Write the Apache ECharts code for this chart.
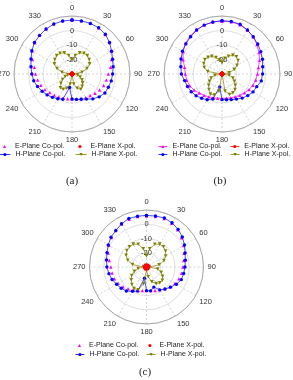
<!DOCTYPE html>
<html><head><meta charset="utf-8">
<script src="https://cdn.jsdelivr.net/npm/echarts@6.0.0/dist/echarts.min.js"></script>
<style>html,body{margin:0;padding:0;background:#fff}#c{width:293px;height:380px}</style>
</head><body><div id="c"></div>
<script>
// angles (deg)
const angles = [0,10,20,30,40,50,60,70,80,90,100,110,120,130,140,150,160,170,180,190,200,210,220,230,240,250,260,270,280,290,300,310,320,330,340,350];
// radial scale (dB)
const radialMin = -30, radialMax = 10, radialStep = 10;
const angleStep = 30;
const seriesNames = ['E-Plane Co-pol.', 'E-Plane X-pol.', 'H-Plane Co-pol.', 'H-Plane X-pol.'];
const captions = ['(a)', '(b)', '(c)'];

// (a)
const a_eCo = [7.3,7.3,7.2,6.8,5.5,3.8,1.5,-1,-3,-5,-6,-6.8,-8,-9.3,-10.6,-11.2,-12,-12.6,-12.8,-12.7,-12.3,-11.8,-11,-10,-8.5,-7.2,-6,-4.8,-3.6,-1,1.8,3.5,4.8,5.8,6.8,7.2];
const a_eX = [-29.5,-29.5,-29.5,-29.5,-29.5,-29.5,-29.5,-29.5,-29.5,-29.5,-29.5,-29.5,-29.5,-29.5,-29.5,-29.5,-29.5,-29.5,-29.5,-29.5,-29.5,-29.5,-29.5,-29.5,-29.5,-29.5,-29.5,-29.5,-29.5,-29.5,-29.5,-29.5,-29.5,-29.5,-29.5,-29.5];
const a_hCo = [7.2,7.2,7.1,6.8,5.8,3.8,1.5,-0.2,-1.2,-2,-2.5,-3.3,-3.8,-5.5,-7.6,-10,-11.5,-12.2,-12.8,-20.5,-11.5,-10.3,-9,-7.6,-6.2,-4.7,-3.2,-2.3,-1.3,0.1,2,3.8,4.8,5.8,6.7,7.1];
const a_hX = [-20,-17,-14.5,-13.5,-13.5,-14.5,-16,-19,-23,-30,-26,-24,-22,-20.5,-19,-17.8,-19.5,-23,-30,-23,-19.5,-17.8,-17.6,-20,-22.5,-25,-27,-30,-23,-19,-16,-14.5,-13.5,-13.5,-14.5,-17];
// (b)
const b_eCo = [6.6,6.5,6.2,5,3.5,1.5,-0.5,-2.5,-4.5,-5.5,-6.4,-7.3,-8.5,-9.8,-10.8,-11.8,-12.5,-13,-13.2,-13,-12.5,-11.8,-10.8,-9.6,-7.8,-6.3,-5.3,-4.7,-3.8,-1.5,1,2.8,4.2,5.2,6,6.4];
const b_eX = [-29.5,-29.5,-29.5,-29.5,-29.5,-29.5,-29.5,-29.5,-29.5,-29.5,-29.5,-29.5,-29.5,-29.5,-29.5,-29.5,-29.5,-29.5,-29.5,-29.5,-29.5,-29.5,-29.5,-29.5,-29.5,-29.5,-29.5,-29.5,-29.5,-29.5,-29.5,-29.5,-29.5,-29.5,-29.5,-29.5];
const b_hCo = [6.8,6.8,6.5,5,3.5,2.2,0.9,-0.3,-1.5,-2,-2.5,-4.5,-5.3,-6.8,-8.3,-10,-11.2,-12,-12.3,-21,-11.6,-9.5,-8.2,-6.7,-5.5,-4.7,-3.8,-2,-1.2,0.1,1.5,2.5,3.6,5,5.9,6.4];
const b_hX = [-22,-19,-17,-15,-14.5,-15.5,-18,-21,-25,-30,-25,-22,-20,-18,-16,-15,-15,-18,-30,-18,-14.5,-14,-16,-18,-20,-22,-25,-30,-20,-17,-15.5,-14.5,-15,-16,-18,-20];
// (c)
const c_eCo = [6,6,6.2,5.5,4,2,0,-2,-3.5,-4.5,-5,-5.8,-7,-8.5,-10,-11.5,-12.5,-13.2,-13.5,-13.2,-12.5,-11.5,-10,-8.5,-7,-6,-5.5,-5,-3.5,-1.5,0.5,2.2,3.5,4.8,5.7,6];
const c_eX = [-29,-28.5,-29,-29.5,-28.5,-28.8,-29,-28.5,-29.5,-28.8,-29,-28.5,-28.8,-29.5,-29,-28.5,-28.8,-29,-29.5,-28.8,-28.5,-29,-29.5,-28.8,-28.5,-29,-28.8,-29.5,-28.5,-29,-28.8,-29,-29.5,-28.5,-28.8,-29];
const c_hCo = [6.2,6.3,6.6,5.8,4.5,2.8,0.8,-1.2,-2.3,-3,-3.5,-4,-5.8,-8,-9.8,-11.5,-15,-13,-13.4,-22,-12,-10.3,-8,-6.8,-5.8,-4.3,-3.2,-2.2,-1.5,-0.5,1,2.5,3.5,5,6.2,6.2];
const c_hX = [-22,-17,-13,-11.5,-11.5,-12.5,-14.5,-17,-21,-28,-22,-19,-17,-15.5,-15.5,-16.5,-19,-23,-28,-18,-13,-12.5,-14,-16,-18,-21,-24,-28,-20,-16,-13.5,-12,-11.5,-11.5,-13,-17];

const chartData = [
  [a_eCo, a_eX, a_hCo, a_hX],
  [b_eCo, b_eX, b_hCo, b_hX],
  [c_eCo, c_eX, c_hCo, c_hX]
];

const colors = ['#ff00ff', '#ff0000', '#0000ff', '#808000'];
const symbols = ['triangle', 'circle', 'circle', 'path://M0,0 L10,0 L5,9 Z'];
// line visible per chart for E-plane series
const eLines = [false, true, false];
const tags = ['a', 'b', 'c'];

const centers = [[72, 74], [222, 74], [146.5, 267]];
const radii = [58, 58, 57];

const polar = centers.map((c, i) => ({ center: c, radius: radii[i] }));
const angleAxis = centers.map((c, i) => ({
  polarIndex: i, type: 'value', min: 0, max: 360, interval: angleStep,
  startAngle: 90, clockwise: true,
  axisLine: { lineStyle: { color: '#9a9a9a', width: 0.8 } },
  axisTick: { show: false },
  axisLabel: { fontSize: 7.5, color: '#333', margin: 4, fontFamily: 'Liberation Sans',
    formatter: v => v === 360 ? '' : String(v) },
  splitLine: { lineStyle: { color: '#b8b8b8', width: 0.6, type: [2, 2] } }
}));
const radiusAxis = centers.map((c, i) => ({
  polarIndex: i, type: 'value', min: radialMin, max: radialMax, interval: radialStep,
  axisLine: { show: false }, axisTick: { show: false },
  axisLabel: { fontSize: 7.5, color: '#333', fontFamily: 'Liberation Sans', margin: 0, align: 'center',
    formatter: v => (v === radialMax || v === radialMin) ? '' : String(v) },
  splitLine: { lineStyle: { color: '#c8c8c8', width: 0.6 } }
}));

const series = [];
const order = [0, 2, 3, 1];
chartData.forEach((set, ci) => {
  order.forEach(si => {
    const vals = set[si];
    const data = angles.map((a, k) => [vals[k], a]);
    data.push([vals[0], 360]);
    const isE = si < 2;
    const showLine = isE ? eLines[ci] : true;
    series.push({
      name: seriesNames[si] + '#' + tags[ci],
      type: 'line', coordinateSystem: 'polar', polarIndex: ci,
      data: data, symbol: symbols[si], symbolSize: si === 3 ? 3.6 : 3.4,
      itemStyle: { color: colors[si] },
      lineStyle: { color: colors[si], width: showLine ? 0.7 : 0, opacity: showLine ? 1 : 0 },
      animation: false, z: 2 + order.indexOf(si)
    });
  });
});

function legendRow(ci, names, left, top, itemWidth, gap, withLine) {
  const row = {
    left: left, top: top, orient: 'horizontal', itemWidth: itemWidth, itemHeight: 4,
    itemGap: gap, padding: 0, selectedMode: false,
    textStyle: { fontSize: 7, color: '#222', fontFamily: 'Liberation Sans', padding: 0 },
    formatter: n => n.split('#')[0],
    data: names.map(n => n + '#' + tags[ci])
  };
  if (withLine) row.lineStyle = { width: 0.8, opacity: 1 };
  return row;
}
const legend = [
  legendRow(0, [seriesNames[0], seriesNames[1]], -1, 143, 11, 10, false),
  legendRow(0, [seriesNames[2], seriesNames[3]], -1, 151, 11, 10, true),
  legendRow(1, [seriesNames[0], seriesNames[1]], 158, 143, 9, 8, true),
  legendRow(1, [seriesNames[2], seriesNames[3]], 158, 151, 9, 8, true),
  legendRow(2, [seriesNames[0], seriesNames[1]], 75, 342, 9, 7, false),
  legendRow(2, [seriesNames[2], seriesNames[3]], 75, 351, 9, 7, true)
];

const capPos = [[72, 181], [220, 181], [145, 372]];
const graphic = captions.map((t, i) => ({
  type: 'text', x: capPos[i][0], y: capPos[i][1],
  style: { text: t, fontSize: 11, fontFamily: 'Liberation Serif', fill: '#222', align: 'center', verticalAlign: 'middle' }
}));

const chart = echarts.init(document.getElementById('c'), null, { renderer: 'canvas' });
chart.setOption({
  backgroundColor: '#fff', animation: false,
  polar, angleAxis, radiusAxis, series, legend, graphic
});
</script></body></html>
